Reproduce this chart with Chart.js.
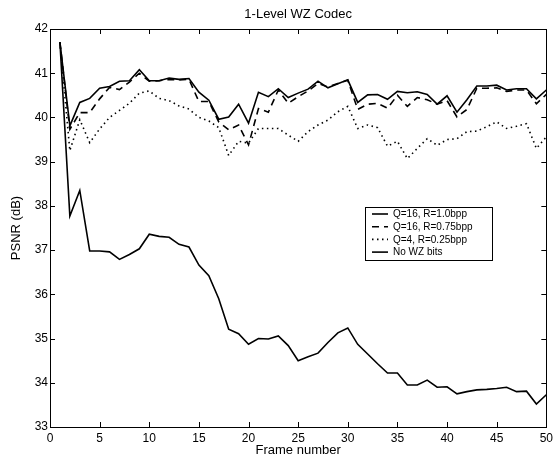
<!DOCTYPE html>
<html>
<head>
<meta charset="utf-8">
<script src="https://cdn.jsdelivr.net/npm/chart.js@4"></script>
<style>
  body { margin: 0; background: #fff; }
  #wrap { width: 557px; height: 458px; }
</style>
</head>
<body>
<div id="wrap"><canvas id="wzChart"></canvas></div>
<script>
const frames = [1, 2, 3, 4, 5, 6, 7, 8, 9, 10, 11, 12, 13, 14, 15, 16, 17, 18, 19, 20,
    21, 22, 23, 24, 25, 26, 27, 28, 29, 30, 31, 32, 33, 34, 35, 36, 37, 38, 39, 40,
    41, 42, 43, 44, 45, 46, 47, 48, 49, 50];

const q16r10 = [41.7, 39.81, 40.34, 40.43, 40.66, 40.70, 40.82, 40.83, 41.08, 40.83,
    40.83, 40.89, 40.86, 40.88, 40.57, 40.39, 39.96, 40.01, 40.30, 39.87,
    40.57, 40.47, 40.65, 40.45, 40.55, 40.64, 40.82, 40.67, 40.76, 40.85,
    40.34, 40.51, 40.52, 40.41, 40.59, 40.56, 40.58, 40.52, 40.30, 40.49,
    40.12, 40.40, 40.71, 40.71, 40.73, 40.62, 40.65, 40.65, 40.42, 40.62];

const q16r075 = [41.7, 39.73, 40.11, 40.11, 40.42, 40.68, 40.63, 40.80, 41.0, 40.82,
    40.83, 40.86, 40.85, 40.86, 40.36, 40.36, 39.9, 39.72, 39.83, 39.38,
    40.2, 40.12, 40.62, 40.32, 40.47, 40.6, 40.77, 40.69, 40.77, 40.84,
    40.18, 40.3, 40.32, 40.21, 40.5, 40.25, 40.45, 40.4, 40.3, 40.38,
    40.01, 40.18, 40.66, 40.66, 40.67, 40.59, 40.62, 40.62, 40.31, 40.52];

const q4r025 = [41.7, 39.25, 39.95, 39.43, 39.74, 40.0, 40.16, 40.32, 40.55, 40.6,
    40.43, 40.38, 40.26, 40.19, 40.0, 39.92, 39.77, 39.14, 39.46, 39.42,
    39.75, 39.75, 39.75, 39.6, 39.46, 39.68, 39.83, 39.94, 40.13, 40.25,
    39.75, 39.83, 39.77, 39.35, 39.46, 39.07, 39.3, 39.52, 39.37, 39.5,
    39.52, 39.68, 39.69, 39.79, 39.9, 39.75, 39.8, 39.86, 39.3, 39.56];

const noWz = [41.7, 37.77, 38.35, 36.98, 36.98, 36.96, 36.79, 36.9, 37.03, 37.36,
    37.31, 37.29, 37.13, 37.07, 36.66, 36.42, 35.9, 35.21, 35.11, 34.87,
    35.0, 34.99, 35.06, 34.84, 34.5, 34.59, 34.67, 34.91, 35.13, 35.24,
    34.87, 34.65, 34.43, 34.22, 34.22, 33.95, 33.95, 34.06, 33.9, 33.91,
    33.75, 33.8, 33.84, 33.85, 33.87, 33.9, 33.8, 33.81, 33.52, 33.73];

const seriesLabels = ["Q=16, R=1.0bpp", "Q=16, R=0.75bpp", "Q=4, R=0.25bpp", "No WZ bits"];
const xTicks = [0, 5, 10, 15, 20, 25, 30, 35, 40, 45, 50];
const yTicks = [33, 34, 35, 36, 37, 38, 39, 40, 41, 42];

const toPoints = values => values.map((v, i) => ({ x: frames[i], y: v }));
const font = "'Liberation Sans', Arial, sans-serif";

// ticks point inward on all four sides, legend sits inside the plot
const boxPlugin = {
    id: "boxPlugin",
    afterDraw(chart) {
        const { ctx, chartArea: a, scales } = chart;
        ctx.save();
        ctx.strokeStyle = "#000";
        ctx.lineWidth = 1;
        ctx.beginPath();
        xTicks.forEach(t => {
            const px = Math.round(scales.x.getPixelForValue(t)) + 0.5;
            ctx.moveTo(px, a.bottom); ctx.lineTo(px, a.bottom - 5);
            ctx.moveTo(px, a.top); ctx.lineTo(px, a.top + 5);
        });
        yTicks.forEach(t => {
            const py = Math.round(scales.y.getPixelForValue(t)) + 0.5;
            ctx.moveTo(a.left, py); ctx.lineTo(a.left + 5, py);
            ctx.moveTo(a.right, py); ctx.lineTo(a.right - 5, py);
        });
        ctx.stroke();

        // legend box
        const lx = 365, ly = 207, lw = 127, lh = 53;
        ctx.fillStyle = "#fff";
        ctx.fillRect(lx, ly, lw, lh);
        ctx.strokeRect(lx + 0.5, ly + 0.5, lw, lh);
        ctx.font = "10px " + font;
        ctx.textBaseline = "middle";
        chart.data.datasets.forEach((ds, i) => {
            const y = ly + 7 + i * 12.7;
            ctx.beginPath();
            ctx.setLineDash(ds.borderDash || []);
            ctx.lineWidth = ds.borderWidth;
            ctx.moveTo(lx + 7, y); ctx.lineTo(lx + 23, y);
            ctx.stroke();
            ctx.setLineDash([]);
            ctx.fillStyle = "#000";
            ctx.fillText(ds.label, lx + 28, y + 0.5);
        });
        ctx.restore();
    }
};

const ctx = document.getElementById("wzChart").getContext("2d");
new Chart(ctx, {
    type: "line",
    data: {
        datasets: [
            { label: seriesLabels[0], data: toPoints(q16r10), borderColor: "#000", borderWidth: 1.6 },
            { label: seriesLabels[1], data: toPoints(q16r075), borderColor: "#000", borderWidth: 1.6, borderDash: [7, 5] },
            { label: seriesLabels[2], data: toPoints(q4r025), borderColor: "#000", borderWidth: 1.6, borderDash: [1.5, 3.5] },
            { label: seriesLabels[3], data: toPoints(noWz), borderColor: "#000", borderWidth: 1.6 }
        ]
    },
    options: {
        responsive: true,
        maintainAspectRatio: false,
        animation: false,
        layout: { padding: 0 },
        elements: { point: { radius: 0 }, line: { tension: 0 } },
        plugins: {
            legend: { display: false },
            title: { display: false },
            tooltip: { enabled: false }
        },
        scales: {
            x: {
                type: "linear",
                position: "bottom",
                min: 0,
                max: 50,
                afterBuildTicks: s => { s.ticks = xTicks.map(v => ({ value: v })); },
                afterFit: s => { s.height = 31; },
                grid: { display: false, drawTicks: false },
                border: { display: true, color: "#000", width: 1 },
                ticks: { color: "#000", padding: 4, maxRotation: 0, font: { family: font, size: 12 } },
                title: { display: true, text: "Frame number", color: "#000", padding: { top: 2, bottom: 0 }, font: { family: font, size: 13 } }
            },
            x2: {
                type: "linear",
                position: "top",
                min: 0,
                max: 50,
                afterFit: s => { s.height = 29; },
                grid: { display: false, drawTicks: false },
                border: { display: true, color: "#000", width: 1 },
                ticks: { display: false },
                title: { display: true, text: "1-Level WZ Codec", color: "#000", padding: { top: 7, bottom: 0 }, font: { family: font, size: 13 } }
            },
            y: {
                position: "left",
                min: 33,
                max: 42,
                afterBuildTicks: s => { s.ticks = yTicks.map(v => ({ value: v })); },
                afterFit: s => { s.width = 50; },
                grid: { display: false, drawTicks: false },
                border: { display: true, color: "#000", width: 1 },
                ticks: { color: "#000", padding: 2, font: { family: font, size: 12 } },
                title: { display: true, text: "PSNR (dB)", color: "#000", padding: { top: 9, bottom: 0 }, font: { family: font, size: 13 } }
            },
            y2: {
                position: "right",
                min: 33,
                max: 42,
                afterFit: s => { s.width = 4; },
                grid: { display: false, drawTicks: false },
                border: { display: true, color: "#000", width: 1 },
                ticks: { display: false }
            }
        }
    },
    plugins: [boxPlugin]
});
</script>
</body>
</html>
